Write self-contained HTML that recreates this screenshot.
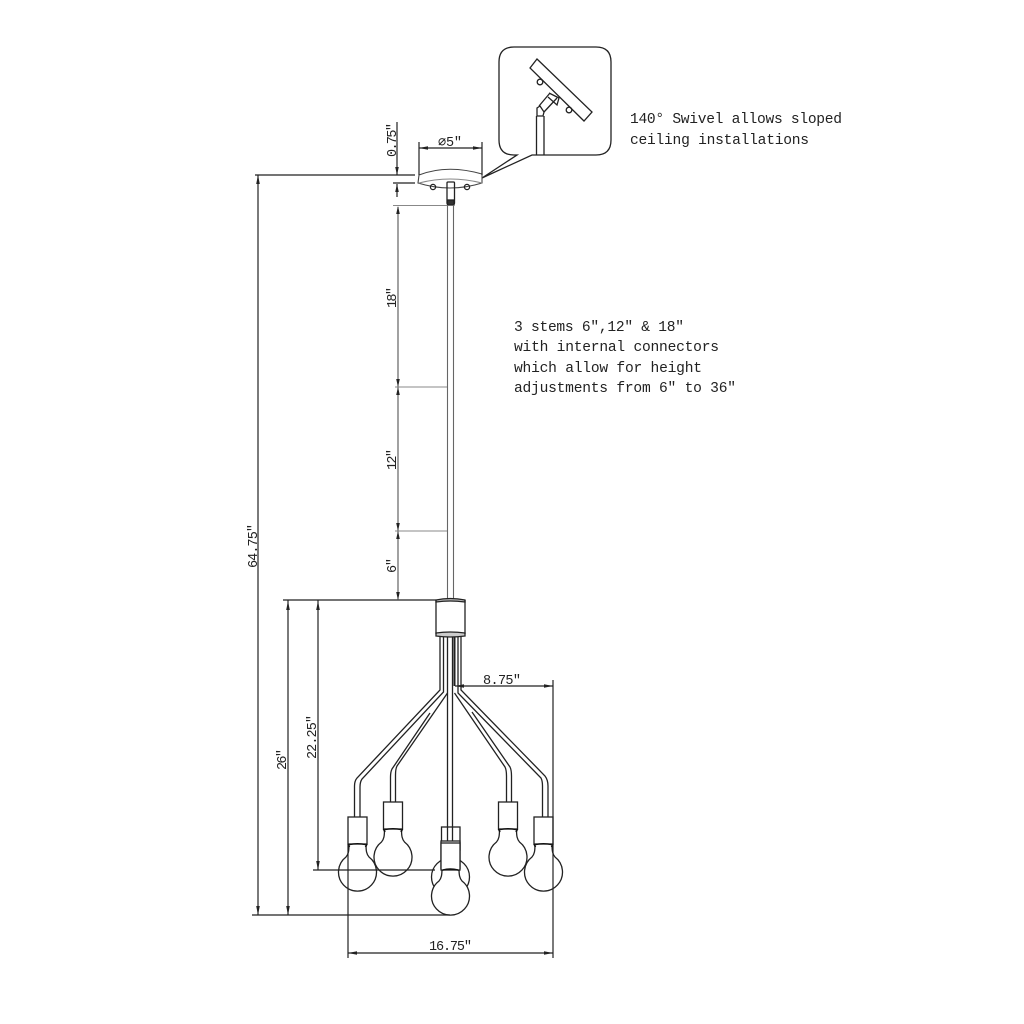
<!DOCTYPE html>
<html><head><meta charset="utf-8"><style>
html,body{margin:0;padding:0;background:#fff}
svg{display:block}
text{font-family:"Liberation Mono",monospace;fill:#222;font-size:14.6px}
.d{font-size:13.5px}
</style></head><body>
<svg width="1024" height="1024" viewBox="0 0 1024 1024" xmlns="http://www.w3.org/2000/svg">
<defs>
<g id="lamp">
<path d="M-8.5 27 C-8.5 34 -9 37 -11.5 40 A19 19 0 1 0 11.5 40 C9 37 8.5 34 8.5 27" fill="#fff" stroke="#222" stroke-width="1.3"/>
<rect x="-9.5" y="0" width="19" height="27" fill="#fff" stroke="#222" stroke-width="1.3"/>
<path d="M-9.5 27 L-8 30 M9.5 27 L8 30 M-8 27.5 Q0 26 8 27.5" fill="none" stroke="#111" stroke-width="1.6"/>
</g>
</defs>
<rect width="1024" height="1024" fill="#fff"/>
<g fill="none" stroke="#222" stroke-width="1.3">
<!-- callout -->
<path d="M517 155 H514 Q499 155 499 140 V62 Q499 47 514 47 H596 Q611 47 611 62 V140 Q611 155 596 155 H532 L482 178 Z"/>
<path d="M530 68 L537 59 L592 112 L584 121 Z"/>
<path d="M539 106 L550 93 M544 112 L557 98 M549 93 L559 98 L557 105 L548 97"/>
<path d="M537 108 L540 106 L544 112 L543 116 L537 116 Z"/>
<path d="M536.5 116 V155 M544 116 V155"/>
<circle cx="540" cy="82" r="2.8"/><circle cx="569" cy="110" r="2.8"/>
<!-- canopy -->
<path d="M419 175 Q447 164 482 174 V183 Q450 193 418 183 Z" stroke="#444" stroke-width="1.1"/>
<path d="M419 183 Q450 175 482 183" stroke="#888" stroke-width="1"/>
<circle cx="433" cy="187" r="2.6"/><circle cx="467" cy="187" r="2.6"/>
<rect x="447" y="182" width="7.5" height="22" rx="1"/>
<rect x="447.5" y="200" width="6.5" height="5" fill="#333"/>
<!-- stem -->
<path d="M447.5 205 V599 M453.5 205 V599" stroke="#666" stroke-width="1.1"/>
<!-- housing -->
<path d="M436 600 Q450 597 465 600 V602 Q450 600 436 602 Z" fill="#bbb"/>
<path d="M436 633 Q450 631 465 633 V636 Q450 638 436 636 Z" fill="#ccc"/>
<path d="M436 600 V634 M465 600 V634"/>
<!-- arms left -->
<path d="M440 637 V690 L357 778 Q354.5 781 354.5 786 V817"/>
<path d="M443.5 637 V692 L362 779 Q360 782 360 787 V817"/>
<path d="M430 713 L392 769 Q390.5 772 390.5 777 V802"/>
<path d="M447.5 693 L397 766 Q395.5 769 395.5 775 V802"/>
<!-- center -->
<path d="M447.5 637 V843 M452.5 637 V843"/>
<path d="M454.5 637 V686" stroke-width="2"/>
<!-- arms right -->
<path d="M454.5 693 L505 767 Q506.5 770 506.5 776 V802"/>
<path d="M472 712 L510 767 Q511.5 770 511.5 776 V802"/>
<path d="M458 637 V693 L541 778 Q542.5 781 542.5 786 V817"/>
<path d="M461 637 V690 L545 776 Q548 780 548 786 V817"/>
<!-- rear center socket + bulb -->
<rect x="441.5" y="827" width="18.5" height="23"/>
<circle cx="450.5" cy="877" r="19"/>
</g>
<use href="#lamp" x="357.5" y="817"/>
<use href="#lamp" x="393" y="802"/>
<use href="#lamp" x="508" y="802"/>
<use href="#lamp" x="543.5" y="817"/>
<use href="#lamp" x="450.5" y="841"/>
<rect x="441" y="843" width="19" height="27" fill="#fff" stroke="#222" stroke-width="1.3"/>
<path d="M443 870 Q450 868 458 870" fill="none" stroke="#111" stroke-width="1.6"/>
<g fill="none" stroke="#222" stroke-width="1.2">
<!-- dims -->
<path d="M258 175 V915 M255 175 H415 M252 915 H450"/>
<path d="M288 600 V915 M318 600 V870 M283 600 H436 M313 870 H435"/>
<path d="M348 845 V958 M553 680 V958 M348 953 H553 M455 686 H553"/>
<path d="M419 142 V175 M482 142 V175 M419 148 H482"/>
<path d="M397 122 V175 M397 184 V197 M393 183 H415"/>
<path d="M398 207 V600" stroke="#555" stroke-width="1.1"/>
<path d="M393 205.5 H447 M395 387 H447 M395 531 H447" stroke="#888" stroke-width="1"/>
</g>
<!-- arrowheads -->
<g fill="#222">
<path d="M258 175 l-1.8 9 h3.6z M258 915 l-1.8 -9 h3.6z"/>
<path d="M288 601 l-1.8 9 h3.6z M288 915 l-1.8 -9 h3.6z"/>
<path d="M318 601 l-1.8 9 h3.6z M318 870 l-1.8 -9 h3.6z"/>
<path d="M348 953 l9 -1.8 v3.6z M553 953 l-9 -1.8 v3.6z"/>
<path d="M553 686 l-9 -1.8 v3.6z M455 686 l9 -1.8 v3.6z"/>
<path d="M419 148 l9 -1.8 v3.6z M482 148 l-9 -1.8 v3.6z"/>
<path d="M397 175 l-1.8 -8 h3.6z M397 184 l-1.8 8 h3.6z M398 206 l-1.8 8 h3.6z"/>
<path d="M398 387 l-1.8 -8 h3.6z M398 387 l-1.8 8 h3.6z M398 531 l-1.8 -8 h3.6z M398 531 l-1.8 8 h3.6z M398 600 l-1.8 -8 h3.6z"/>
</g>
<!-- text -->
<text x="630" y="123" textLength="212">140° Swivel allows sloped</text>
<text x="630" y="144" textLength="179">ceiling installations</text>
<text x="514" y="331" textLength="170">3 stems 6″,12″ &amp; 18″</text>
<text x="514" y="351" textLength="205">with internal connectors</text>
<text x="514" y="372" textLength="188">which allow for height</text>
<text x="514" y="392" textLength="222">adjustments from 6″ to 36″</text>
<text class="d" x="438" y="146" textLength="24">⌀5″</text>
<text class="d" x="483" y="684" textLength="38">8.75″</text>
<text class="d" x="429" y="950" textLength="43">16.75″</text>
<text class="d" transform="translate(396 157) rotate(-90)" textLength="34">0.75″</text>
<text class="d" transform="translate(257 568) rotate(-90)" textLength="44">64.75″</text>
<text class="d" transform="translate(286 770) rotate(-90)" textLength="21">26″</text>
<text class="d" transform="translate(316 759) rotate(-90)" textLength="44">22.25″</text>
<text class="d" transform="translate(396 308) rotate(-90)" textLength="21">18″</text>
<text class="d" transform="translate(396 470) rotate(-90)" textLength="21">12″</text>
<text class="d" transform="translate(396 573) rotate(-90)" textLength="15">6″</text>
</svg>
</body></html>
